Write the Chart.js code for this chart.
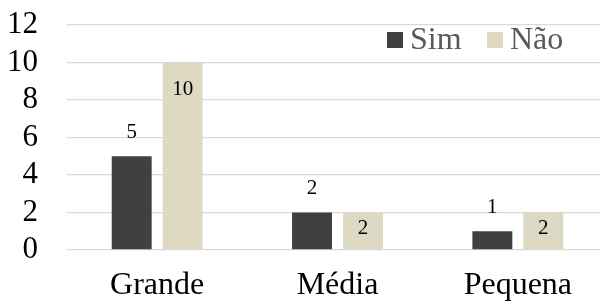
<!DOCTYPE html>
<html>
<head>
<meta charset="utf-8">
<script src="https://cdn.jsdelivr.net/npm/chart.js@4.4.0/dist/chart.umd.min.js"></script>
<style>
  html, body { margin: 0; padding: 0; background: #fff; overflow: hidden; }
  #wrap { width: 610px; height: 302px; }
</style>
</head>
<body>
<div id="wrap"><canvas id="c" width="610" height="302"></canvas></div>
<script>
const categories = ["Grande", "Média", "Pequena"];
const seriesNames = ["Sim", "Não"];
const simValues = [5, 2, 1];
const naoValues = [10, 2, 2];
const yTicks = [0, 2, 4, 6, 8, 10, 12];

const FONT = "'Liberation Serif', 'Times New Roman', serif";
const colors = ["#404040", "#ddd9c3"];

const labelPlugin = {
  id: 'barLabels',
  afterDatasetsDraw(chart) {
    const ctx = chart.ctx;
    ctx.save();
    ctx.font = "21px " + FONT;
    ctx.fillStyle = "#000";
    ctx.textAlign = "center";
    ctx.textBaseline = "middle";
    chart.data.datasets.forEach((ds, di) => {
      const meta = chart.getDatasetMeta(di);
      meta.data.forEach((el, i) => {
        const v = ds.data[i];
        let y;
        if (di === 0) {
          y = el.y - 24;
        } else {
          y = Math.min(el.y + 27, (el.y + el.base) / 2 - 2);
        }
        ctx.fillText(String(v), el.x, y);
      });
    });
    ctx.restore();
  }
};

const legendPlugin = {
  id: 'customLegend',
  afterDraw(chart) {
    const ctx = chart.ctx;
    const a = chart.chartArea;
    ctx.save();
    ctx.font = "32px " + FONT;
    ctx.textBaseline = "middle";
    ctx.textAlign = "left";
    let x = a.left + 320;
    const y = a.top + 15;
    chart.data.datasets.forEach((ds, di) => {
      ctx.fillStyle = ds.backgroundColor;
      ctx.fillRect(x, y - 8, 16, 16);
      ctx.fillStyle = "#595959";
      ctx.fillText(ds.label, x + 23, y + 1);
      x += 100;
    });
    ctx.restore();
  }
};

new Chart(document.getElementById('c'), {
  type: 'bar',
  data: {
    labels: categories,
    datasets: [
      { label: seriesNames[0], data: simValues, backgroundColor: colors[0], barPercentage: 0.784, categoryPercentage: 0.565 },
      { label: seriesNames[1], data: naoValues, backgroundColor: colors[1], barPercentage: 0.784, categoryPercentage: 0.565 }
    ]
  },
  options: {
    responsive: false,
    animation: false,
    devicePixelRatio: 1,
    layout: { padding: { top: 25, right: 2, left: 0, bottom: 0 } },
    plugins: { legend: { display: false }, tooltip: { enabled: false } },
    scales: {
      x: {
        grid: { display: false, drawTicks: false },
        border: { display: false },
        ticks: { color: "#000", font: { family: FONT, size: 32 }, padding: 16, autoSkip: false, maxRotation: 0 },
        afterFit(s) { s.height = 52; s.paddingLeft = 0; s.paddingRight = 0; }
      },
      y: {
        min: 0, max: 12,
        afterBuildTicks(s) { s.ticks = yTicks.map(v => ({ value: v })); },
        grid: { color: "#d9d9d9", lineWidth: 1.3, drawTicks: false },
        border: { display: false },
        ticks: { color: "#000", font: { family: FONT, size: 31 }, padding: 29, autoSkip: false },
        afterFit(s) { s.width = 67; s.paddingTop = 0; s.paddingBottom = 0; }
      }
    }
  },
  plugins: [labelPlugin, legendPlugin]
});
</script>
</body>
</html>
